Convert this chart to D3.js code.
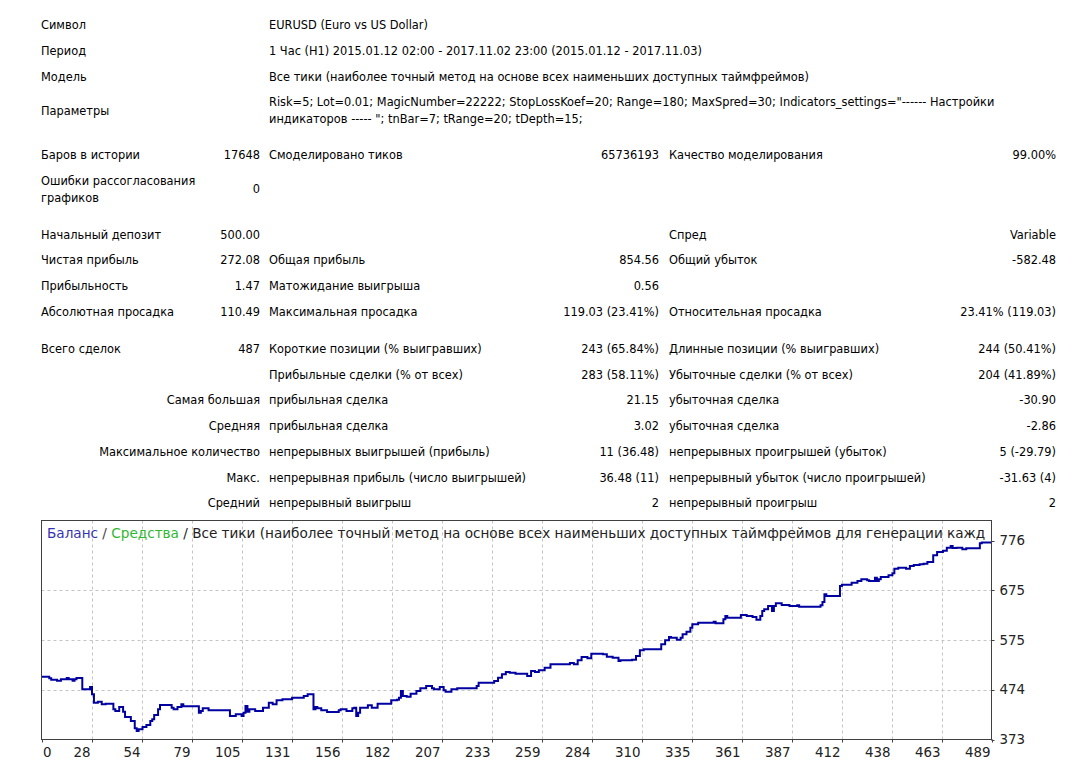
<!DOCTYPE html>
<html><head><meta charset="utf-8">
<script src="https://cdn.jsdelivr.net/npm/d3@7"></script>
<style>
body{margin:0;background:#fff}
svg{display:block}
text{font-family:"DejaVu Sans",sans-serif}
</style>
</head><body>
<svg id="c" width="1074" height="772"></svg>
<script>
// ---- data ----
const tradeIdx = [0,4,5,8,10,13,14,16,17,18,21,25,26,27,29,31,33,37,38,40,42,43,46,48,49,50,52,54,56,57,58,60,61,67,68,70,72,73,81,82,83,86,97,100,103,104,105,106,107,110,114,117,119,121,124,129,135,137,140,141,142,144,147,153,154,157,160,161,162,163,164,168,170,173,180,183,184,185,186,188,190,193,195,198,201,202,205,207,208,211,214,224,225,233,235,237,239,241,244,250,252,254,256,259,262,272,274,276,278,281,283,289,291,294,297,298,304,306,308,310,319,321,323,324,327,329,330,332,334,335,338,346,347,351,352,353,360,363,366,368,370,371,372,374,376,377,378,381,385,389,390,401,402,403,404,411,412,417,420,422,425,426,429,430,431,432,436,438,439,441,445,447,449,452,454,456,459,461,464,466,468,469,471,474,476,483,484,489];
const balance = [500.0,496.9,494.2,492.2,494.9,497.6,494.9,492.2,494.9,497.6,474.6,479.4,464.5,447.6,449.7,444.3,445.6,434.1,430.8,438.9,429.4,418.6,410.5,395.6,390.3,393.6,398.4,402.4,410.5,413.9,422.7,434.1,442.9,437.5,434.1,438.9,444.3,440.2,427.4,430.8,436.2,432.1,420.6,424.0,420.6,427.4,440.9,429.4,434.1,430.8,437.5,447.6,444.3,452.4,454.4,457.8,461.1,464.5,434.1,438.9,436.2,432.1,428.7,432.1,434.1,430.8,436.2,437.5,420.6,427.4,437.5,442.2,437.5,445.6,452.4,453.7,457.8,471.3,461.1,459.8,465.9,471.3,476.7,481.4,476.7,474.6,479.4,472.6,469.9,474.6,476.7,481.4,488.1,491.5,498.3,505.0,509.7,508.4,506.4,501.6,511.8,509.7,513.1,518.5,525.3,528.0,525.3,533.4,540.1,537.4,546.9,545.5,540.8,538.8,532.0,533.4,534.7,542.1,553.6,555.6,565.8,573.9,580.6,579.3,575.2,579.3,586.0,591.4,599.5,606.3,609.6,611.7,608.3,616.4,623.1,619.8,625.2,623.1,621.1,615.7,623.1,633.3,636.6,643.4,633.2,643.4,648.8,645.4,643.4,644.7,642.0,644.7,651.5,667.0,663.6,683.9,686.6,690.6,694.0,697.4,695.3,694.0,700.7,694.0,697.4,702.1,705.5,709.5,719.0,721.0,719.0,724.4,726.4,727.7,729.1,732.5,746.0,752.7,755.4,761.5,764.9,760.8,761.5,758.1,760.1,770.5,772.1,772.1];
const xTickLabels = [0,28,54,79,105,131,156,182,207,233,259,284,310,335,361,387,412,438,463,489];
const yTickLabels = [373,474,575,675,776];

const headerLabels = ["Символ","Период","Модель","Параметры"];
const headerValues = [
  ["EURUSD (Euro vs US Dollar)"],
  ["1 Час (H1) 2015.01.12 02:00 - 2017.11.02 23:00 (2015.01.12 - 2017.11.03)"],
  ["Все тики (наиболее точный метод на основе всех наименьших доступных таймфреймов)"],
  ["Risk=5; Lot=0.01; MagicNumber=22222; StopLossKoef=20; Range=180; MaxSpred=30; Indicators_settings=\"------ Настройки",
   "индикаторов ----- \"; tnBar=7; tRange=20; tDepth=15;"]
];
const statRows = [
  [["Баров в истории"],"17648","Смоделировано тиков","65736193","Качество моделирования","99.00%"],
  [["Ошибки рассогласования","графиков"],"0","","","",""],
  [["Начальный депозит"],"500.00","","","Спред","Variable"],
  [["Чистая прибыль"],"272.08","Общая прибыль","854.56","Общий убыток","-582.48"],
  [["Прибыльность"],"1.47","Матожидание выигрыша","0.56","",""],
  [["Абсолютная просадка"],"110.49","Максимальная просадка","119.03 (23.41%)","Относительная просадка","23.41% (119.03)"],
  [["Всего сделок"],"487","Короткие позиции (% выигравших)","243 (65.84%)","Длинные позиции (% выигравших)","244 (50.41%)"],
  [[""],"","Прибыльные сделки (% от всех)","283 (58.11%)","Убыточные сделки (% от всех)","204 (41.89%)"]
];
const rightLabelRows = [
  ["Самая большая","прибыльная сделка","21.15","убыточная сделка","-30.90"],
  ["Средняя","прибыльная сделка","3.02","убыточная сделка","-2.86"],
  ["Максимальное количество","непрерывных выигрышей (прибыль)","11 (36.48)","непрерывных проигрышей (убыток)","5 (-29.79)"],
  ["Макс.","непрерывная прибыль (число выигрышей)","36.48 (11)","непрерывный убыток (число проигрышей)","-31.63 (4)"],
  ["Средний","непрерывный выигрыш","2","непрерывный проигрыш","2"]
];
const titleParts = [
  ["Баланс","#3434b4"],[" / ","#444"],["Средства","#30b830"],
  [" / Все тики (наиболее точный метод на основе всех наименьших доступных таймфреймов для генерации каждого тика)","#222"]
];

// ---- layout ----
const svg = d3.select("#c");
const FS = 11.4;
const colX = {l1:41, v1:260, l2:269, v2:659, l3:669, v3:1056};
const headerY = [[25],[51],[77],[102,119]];
const headerLabelY = [25,51,77,111];
const statY = [155,189,235,260,286,312,349,375];
const rightY = [400,426,452,478,503];
const lineGap = 17;

const tbl = svg.append("g").attr("font-size", FS).attr("fill","#000");
function txt(x,y,s,anchor){
  if (!s) return;
  tbl.append("text").attr("x",x).attr("y",y).attr("dy","0.36em")
    .attr("text-anchor",anchor||"start").text(s);
}
headerLabels.forEach((l,i)=>{
  txt(colX.l1, headerLabelY[i], l);
  headerValues[i].forEach((v,j)=>txt(colX.l2, headerY[i][j], v));
});
statRows.forEach((r,i)=>{
  const y = statY[i];
  const n = r[0].length;
  r[0].forEach((s,j)=>txt(colX.l1, y - (n-1)*lineGap/2 + j*lineGap, s));
  txt(colX.v1, y, r[1], "end");
  txt(colX.l2, y, r[2]);
  txt(colX.v2, y, r[3], "end");
  txt(colX.l3, y, r[4]);
  txt(colX.v3, y, r[5], "end");
});
rightLabelRows.forEach((r,i)=>{
  const y = rightY[i];
  txt(colX.v1, y, r[0], "end");
  txt(colX.l2, y, r[1]);
  txt(colX.v2, y, r[2], "end");
  txt(colX.l3, y, r[3]);
  txt(colX.v3, y, r[4], "end");
});

// ---- chart ----
const L = 41.5, R = 991.5, T = 520.5, B = 739.5;
const x = d3.scaleLinear().domain([0, 489]).range([L, R]);
const xt = d3.scalePoint().domain(xTickLabels).range([L, R]);
const y = d3.scaleLinear().domain([373, 776]).range([B, 540.5]);

const ch = svg.append("g");
svg.append("defs").append("clipPath").attr("id","pc")
  .append("rect").attr("x",L).attr("y",T).attr("width",R-L).attr("height",B-T);

// grid
const gridX = xTickLabels.slice(1, -1);
ch.selectAll(".gx").data(gridX).join("line")
  .attr("x1",d=>Math.round(xt(d))+0.5).attr("x2",d=>Math.round(xt(d))+0.5)
  .attr("y1",T).attr("y2",B)
  .attr("stroke","#c4c4c4").attr("stroke-dasharray","3,3");
const gridY = yTickLabels.slice(1, -1);
ch.selectAll(".gy").data(gridY).join("line")
  .attr("y1",d=>Math.round(y(d))+0.5).attr("y2",d=>Math.round(y(d))+0.5)
  .attr("x1",L).attr("x2",R)
  .attr("stroke","#c4c4c4").attr("stroke-dasharray","3,3");

// title (trimmed to the plot width, then clipped like the original)
const title = ch.append("text").attr("clip-path","url(#pc)")
  .attr("x",47).attr("y",538).attr("font-size",13.6);
const spans = titleParts.map(p=>title.append("tspan").attr("fill",p[1]).text(p[0]));
const last = spans[spans.length-1];
let s = titleParts[titleParts.length-1][0];
while (title.node().getComputedTextLength() > (R - 47 - 1) && s.length > 1) {
  s = s.slice(0, -1);
  last.text(s);
}

// balance line
const pts = tradeIdx.map((t,i)=>[t, balance[i]]);
ch.append("path").datum(pts)
  .attr("clip-path","url(#pc)")
  .attr("fill","none").attr("stroke","#0000a0").attr("stroke-width",2)
  .attr("d", d3.line().x(d=>x(d[0])).y(d=>y(d[1])).curve(d3.curveStepAfter));

// frame
ch.append("rect").attr("x",L).attr("y",T).attr("width",R-L).attr("height",B-T)
  .attr("fill","none").attr("stroke","#404040");

// x ticks & labels
ch.selectAll(".xtk").data(xTickLabels).join("line")
  .attr("x1",d=>Math.round(xt(d))+0.5).attr("x2",d=>Math.round(xt(d))+0.5)
  .attr("y1",B).attr("y2",B+3).attr("stroke","#404040");
ch.selectAll(".xl").data(xTickLabels).join("text")
  .attr("font-size",13.4).attr("fill","#222")
  .attr("x",(d,i)=> i===0 ? L+1.5 : xt(d)-1)
  .attr("text-anchor",(d,i)=> i===0 ? "start" : "end")
  .attr("y",757).text(d=>d);

// y ticks & labels
ch.selectAll(".ytk").data(yTickLabels).join("line")
  .attr("y1",d=>Math.round(y(d))+0.5).attr("y2",d=>Math.round(y(d))+0.5)
  .attr("x1",R).attr("x2",R+3).attr("stroke","#404040");
ch.selectAll(".yl").data(yTickLabels).join("text")
  .attr("font-size",13.4).attr("fill","#222")
  .attr("x",R+8).attr("y",d=>y(d)).attr("dy","0.36em").text(d=>d);
</script>
</body></html>
